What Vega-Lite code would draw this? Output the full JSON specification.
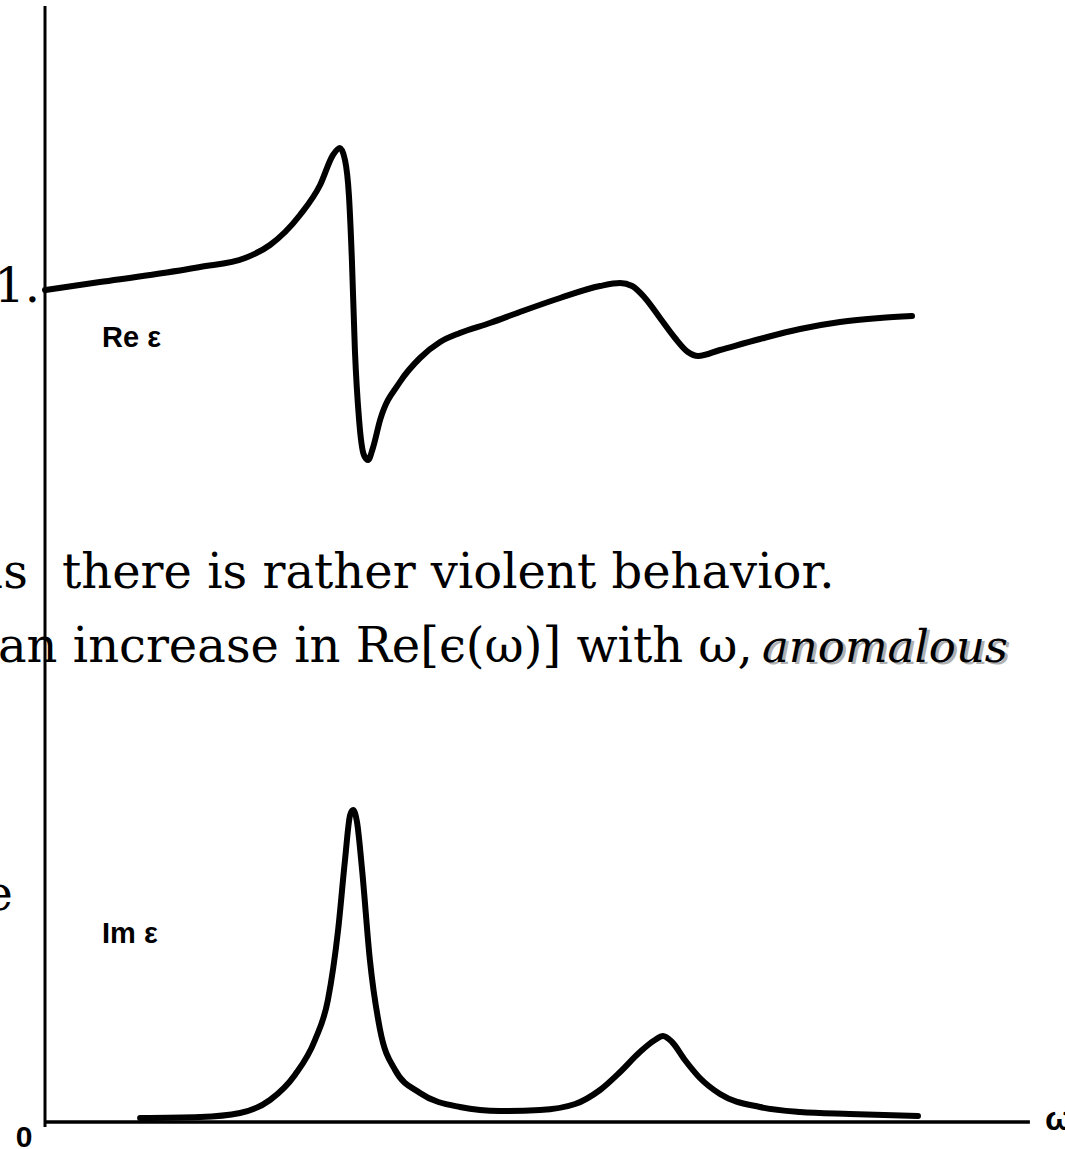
{
  "$schema": "https://vega.github.io/schema/vega-lite/v6.json",
  "width": 1065,
  "height": 1149,
  "padding": 0,
  "autosize": "none",
  "background": "#ffffff",
  "config": {"view": {"stroke": null}},
  "datasets": {
    "re": [
      {"w": 0.0, "v": 1.0}, {"w": 0.183, "v": 1.02}, {"w": 0.35, "v": 1.0375},
      {"w": 0.517, "v": 1.0575}, {"w": 0.667, "v": 1.08}, {"w": 0.75, "v": 1.1125},
      {"w": 0.85, "v": 1.1875}, {"w": 0.917, "v": 1.2625}, {"w": 0.96, "v": 1.3375},
      {"w": 0.983, "v": 1.355}, {"w": 1.0, "v": 1.325}, {"w": 1.013, "v": 1.2375},
      {"w": 1.023, "v": 1.075}, {"w": 1.033, "v": 0.85}, {"w": 1.047, "v": 0.675},
      {"w": 1.063, "v": 0.5875}, {"w": 1.077, "v": 0.575}, {"w": 1.093, "v": 0.605},
      {"w": 1.117, "v": 0.675}, {"w": 1.183, "v": 0.77}, {"w": 1.25, "v": 0.83},
      {"w": 1.317, "v": 0.87}, {"w": 1.383, "v": 0.8925}, {"w": 1.483, "v": 0.9175},
      {"w": 1.583, "v": 0.945}, {"w": 1.717, "v": 0.98}, {"w": 1.85, "v": 1.01},
      {"w": 1.917, "v": 1.0175}, {"w": 1.957, "v": 1.01}, {"w": 2.0, "v": 0.98},
      {"w": 2.05, "v": 0.93}, {"w": 2.1, "v": 0.88}, {"w": 2.143, "v": 0.845},
      {"w": 2.177, "v": 0.835}, {"w": 2.25, "v": 0.85}, {"w": 2.383, "v": 0.8775},
      {"w": 2.517, "v": 0.9025}, {"w": 2.65, "v": 0.92}, {"w": 2.783, "v": 0.93},
      {"w": 2.89, "v": 0.935}
    ],
    "im": [
      {"w": 0.317, "v": 0.01}, {"w": 0.517, "v": 0.0125}, {"w": 0.65, "v": 0.0225},
      {"w": 0.75, "v": 0.055}, {"w": 0.833, "v": 0.1175}, {"w": 0.9, "v": 0.205},
      {"w": 0.943, "v": 0.305}, {"w": 0.977, "v": 0.48}, {"w": 1.0, "v": 0.655},
      {"w": 1.017, "v": 0.7675}, {"w": 1.027, "v": 0.78}, {"w": 1.04, "v": 0.75},
      {"w": 1.057, "v": 0.63}, {"w": 1.083, "v": 0.405}, {"w": 1.117, "v": 0.23},
      {"w": 1.167, "v": 0.13}, {"w": 1.25, "v": 0.0725}, {"w": 1.383, "v": 0.0375},
      {"w": 1.517, "v": 0.0275}, {"w": 1.65, "v": 0.03}, {"w": 1.767, "v": 0.045},
      {"w": 1.85, "v": 0.08}, {"w": 1.917, "v": 0.125}, {"w": 1.983, "v": 0.175},
      {"w": 2.033, "v": 0.205}, {"w": 2.06, "v": 0.215}, {"w": 2.09, "v": 0.2},
      {"w": 2.133, "v": 0.155}, {"w": 2.183, "v": 0.11}, {"w": 2.25, "v": 0.07},
      {"w": 2.383, "v": 0.0375}, {"w": 2.517, "v": 0.025}, {"w": 2.683, "v": 0.02},
      {"w": 2.91, "v": 0.015}
    ],
    "axes": [
      {"w": 0, "w2": 0, "v": -0.0125, "v2": 2.79, "size": 3},
      {"w": 0, "w2": 3.283, "v": 0, "v2": 0, "size": 3.5}
    ],
    "curveLabels": [
      {"w": 0.19, "v": 1.9375, "label": "Re ε"},
      {"w": 0.19, "v": 0.4475, "label": "Im ε"}
    ],
    "originLabel": [
      {"w": -0.07, "v": -0.0625, "label": "0"}
    ],
    "omegaLabel": [
      {"w": 3.333, "v": -0.02, "label": "ω"}
    ],
    "proseLeft": [
      {"w": 0.0567, "v": 1.335, "label": "there is rather violent behavior."},
      {"w": -0.1567, "v": 1.15, "label": "an increase in Re[ϵ(ω)] with ω,"}
    ],
    "proseRight": [
      {"w": -0.0167, "v": 2.05, "label": "1."},
      {"w": -0.0567, "v": 1.335, "label": "thus"},
      {"w": -0.107, "v": 0.53, "label": "the"}
    ],
    "emphasis": [
      {"w": 2.39, "v": 1.15, "label": "anomalous"}
    ]
  },
  "encoding": {
    "x": {"field": "w", "type": "quantitative", "axis": null,
          "scale": {"domain": [-0.15, 3.4], "nice": false, "zero": false}}
  },
  "layer": [
    {
      "data": {"name": "re"},
      "mark": {"type": "line", "color": "#000000", "strokeWidth": 6, "interpolate": "monotone", "strokeCap": "round", "strokeJoin": "round"},
      "encoding": {
        "y": {"field": "v", "type": "quantitative", "axis": null,
              "scale": {"domain": [-1.1475, 1.725], "nice": false, "zero": false}}
      }
    },
    {
      "encoding": {
        "y": {"field": "v", "type": "quantitative", "axis": null,
              "scale": {"domain": [-0.0675, 2.805], "nice": false, "zero": false}}
      },
      "layer": [
        {
          "data": {"name": "axes"},
          "mark": {"type": "rule", "color": "#000000"},
          "encoding": {
            "x2": {"field": "w2"},
            "y2": {"field": "v2"},
            "strokeWidth": {"field": "size", "type": "quantitative", "scale": null}
          }
        },
        {
          "data": {"name": "im"},
          "mark": {"type": "line", "color": "#000000", "strokeWidth": 6, "interpolate": "monotone", "strokeCap": "round", "strokeJoin": "round"}
        },
        {
          "data": {"name": "curveLabels"},
          "mark": {"type": "text", "font": "Liberation Sans", "fontWeight": "bold", "fontSize": 29, "align": "left", "baseline": "alphabetic", "color": "#000000"},
          "encoding": {"text": {"field": "label"}}
        },
        {
          "data": {"name": "originLabel"},
          "mark": {"type": "text", "font": "Liberation Sans", "fontWeight": "bold", "fontSize": 30, "align": "center", "baseline": "alphabetic", "color": "#000000"},
          "encoding": {"text": {"field": "label"}}
        },
        {
          "data": {"name": "omegaLabel"},
          "mark": {"type": "text", "font": "Liberation Sans", "fontWeight": "bold", "fontSize": 34, "align": "left", "baseline": "alphabetic", "color": "#000000"},
          "encoding": {"text": {"field": "label"}}
        },
        {
          "data": {"name": "proseLeft"},
          "mark": {"type": "text", "font": "DejaVu Serif", "fontSize": 48, "align": "left", "baseline": "alphabetic", "color": "#000000"},
          "encoding": {"text": {"field": "label"}}
        },
        {
          "data": {"name": "proseRight"},
          "mark": {"type": "text", "font": "DejaVu Serif", "fontSize": 48, "align": "right", "baseline": "alphabetic", "color": "#000000"},
          "encoding": {"text": {"field": "label"}}
        },
        {
          "data": {"name": "emphasis"},
          "mark": {"type": "text", "font": "DejaVu Serif", "fontStyle": "italic", "fontSize": 45, "align": "left", "baseline": "alphabetic", "color": "#b0b0b0", "dx": 3, "dy": 2},
          "encoding": {"text": {"field": "label"}}
        },
        {
          "data": {"name": "emphasis"},
          "mark": {"type": "text", "font": "DejaVu Serif", "fontStyle": "italic", "fontSize": 45, "align": "left", "baseline": "alphabetic", "color": "#000000"},
          "encoding": {"text": {"field": "label"}}
        }
      ]
    }
  ],
  "resolve": {"scale": {"y": "independent"}}
}
